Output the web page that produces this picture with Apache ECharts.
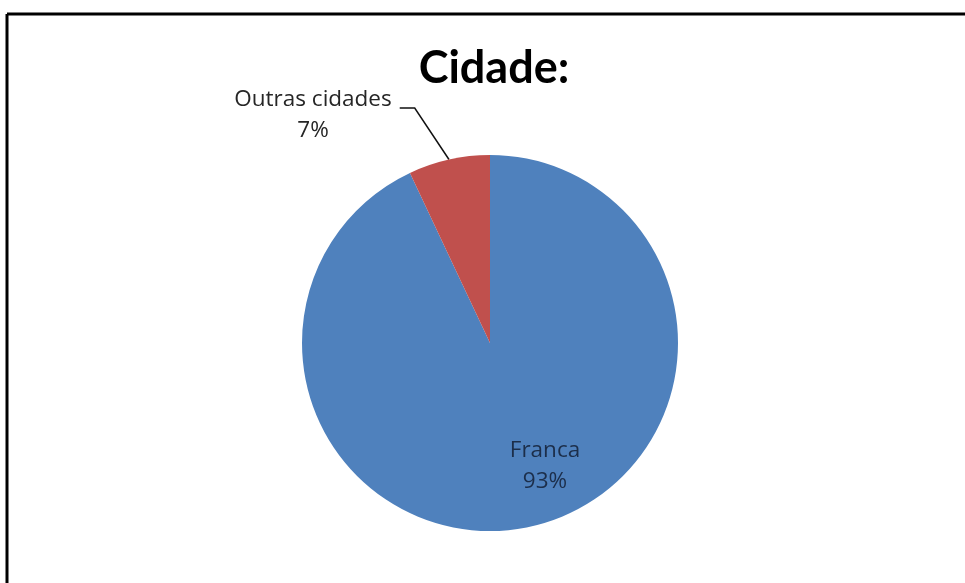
<!DOCTYPE html>
<html>
<head>
<meta charset="utf-8">
<script src="https://cdn.jsdelivr.net/npm/echarts@6/dist/echarts.min.js"></script>
<style>html,body{margin:0;padding:0;background:#fff}#c{width:965px;height:583px}</style>
</head>
<body>
<div id="c"></div>
<script>
const titleText = 'Cidade:';
const categories = ['Franca', 'Outras cidades'];
const values = [93, 7];
const colors = ['#4F81BD', '#C0504D'];

const chart = echarts.init(document.getElementById('c'), null, {renderer: 'canvas'});
const titleFont = 'Lato, "Open Sans", sans-serif';
const labelFont = '"Open Sans", Lato, sans-serif';

chart.setOption({
  backgroundColor: '#ffffff',
  animation: false,
  title: {
    text: titleText,
    left: 489, top: 41, textAlign: 'center',
    textStyle: {fontFamily: titleFont, fontWeight: 'bold', fontSize: 45, color: '#000'}
  },
  graphic: [
    {type: 'line', shape: {x1: 7, y1: 14, x2: 965, y2: 14}, style: {stroke: '#000', lineWidth: 3}},
    {type: 'line', shape: {x1: 7, y1: 14, x2: 7, y2: 583}, style: {stroke: '#000', lineWidth: 3}}
  ],
  series: [{
    type: 'pie',
    center: [490, 343],
    radius: [0, 188],
    startAngle: 90,
    clockwise: true,
    avoidLabelOverlap: false,
    itemStyle: {borderWidth: 0},
    label: {
      formatter: '{b}\n{d}%',
      fontFamily: labelFont, fontSize: 22.5, color: '#262626', lineHeight: 31, align: 'center'
    },
    labelLine: {lineStyle: {color: '#111', width: 1.5}},
    data: categories.map((c, i) => ({
      name: c, value: values[i],
      itemStyle: {color: colors[i]},
      label: i === 0 ? {position: 'inside', color: '#1c2e4a'} : {position: 'outside'},
      labelLine: {show: i !== 0, length: 30, length2: 20}
    })),
    labelLayout: function (p) {
      if (p.dataIndex === 0) return {x: 545, y: 466, align: 'center', verticalAlign: 'middle'};
      const lx = 313, ly = 115;
      const right = lx + p.labelRect.width / 2;
      const lineY = ly - 7;
      const pts = p.labelLinePoints ? [p.labelLinePoints[0], [right + 23, lineY], [right + 8, lineY]] : undefined;
      return {x: lx, y: ly, align: 'center', verticalAlign: 'middle', labelLinePoints: pts};
    }
  }]
});
</script>
</body>
</html>
